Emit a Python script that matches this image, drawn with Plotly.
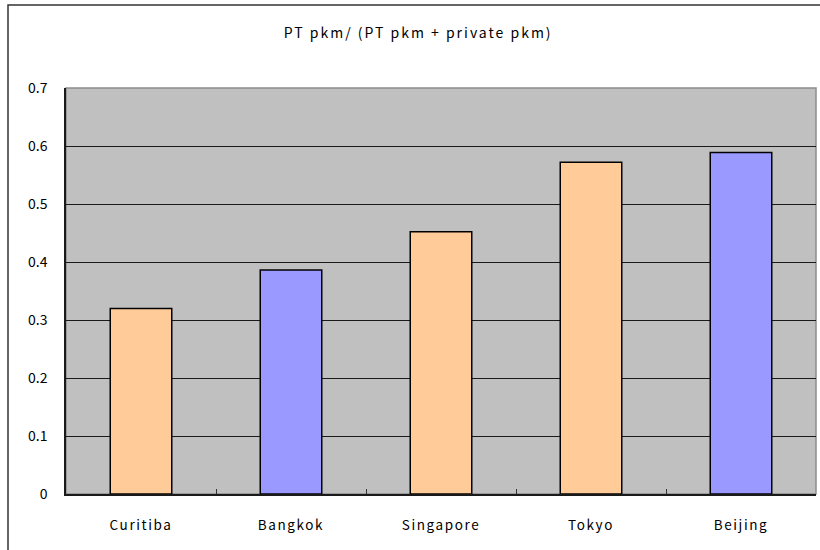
import plotly.graph_objects as go

cities = ["Curitiba", "Bangkok", "Singapore", "Tokyo", "Beijing"]
pt_share = [0.32, 0.386, 0.452, 0.572, 0.589]
bar_colors = ["#FFCC99", "#9999FF", "#FFCC99", "#FFCC99", "#9999FF"]
y_ticks = [0, 0.1, 0.2, 0.3, 0.4, 0.5, 0.6, 0.7]
title_text = "PT pkm/ (PT pkm + private pkm)"

FONT = "Noto Sans CJK JP"

fig = go.Figure(
    go.Bar(
        x=cities,
        y=pt_share,
        width=0.41,
        marker=dict(color=bar_colors, line=dict(color="#000000", width=1.5)),
    )
)

fig.update_layout(
    width=820,
    height=550,
    margin=dict(l=66, r=4, t=88, b=56),
    paper_bgcolor="#FFFFFF",
    plot_bgcolor="#C0C0C0",
    showlegend=False,
    font=dict(family=FONT, size=13.5, color="#000000"),
    title=dict(
        text=title_text,
        x=0.51,
        xanchor="center",
        y=1 - 33 / 550,
        yanchor="middle",
        font=dict(family=FONT, size=14, color="#000000"),
    ),
    bargap=0.59,
)

fig.update_xaxes(
    type="category",
    showline=True,
    linecolor="#1a1a1a",
    linewidth=1.5,
    ticks="inside",
    tickson="boundaries",
    ticklen=5,
    tickcolor="#333333",
    showgrid=False,
    ticklabelstandoff=18,
    mirror=False,
)

fig.update_yaxes(
    range=[0, 0.7],
    tickvals=y_ticks,
    ticktext=[f"{v:g}" for v in y_ticks],
    tickfont=dict(size=14),
    showline=True,
    linecolor="#1a1a1a",
    linewidth=1.5,
    ticks="inside",
    ticklen=6,
    tickcolor="#1a1a1a",
    showgrid=True,
    gridcolor="#1a1a1a",
    gridwidth=1,
    zeroline=False,
    ticklabelstandoff=14,
)

# light frame around the plotting area (top and right edges)
fig.add_shape(
    type="rect", xref="paper", yref="paper",
    x0=0, x1=1, y0=0, y1=1,
    line=dict(color="#8c8c8c", width=1.5),
    layer="below",
)

# outer chart frame
fig.add_shape(
    type="rect", xref="paper", yref="paper",
    x0=(8 - 66) / 750, x1=(840 - 66) / 750,
    y0=-(580 - 494) / 406, y1=1 + (88 - 5) / 406,
    line=dict(color="#333333", width=1.5),
)

# widen the letter spacing of the category labels and the title
spacing_css = """
var st = document.createElement('style');
st.textContent = '.xtick text{letter-spacing:1.6px} .gtitle{letter-spacing:2px}';
document.head.appendChild(st);
"""

fig.write_html("out.html", post_script=spacing_css)
